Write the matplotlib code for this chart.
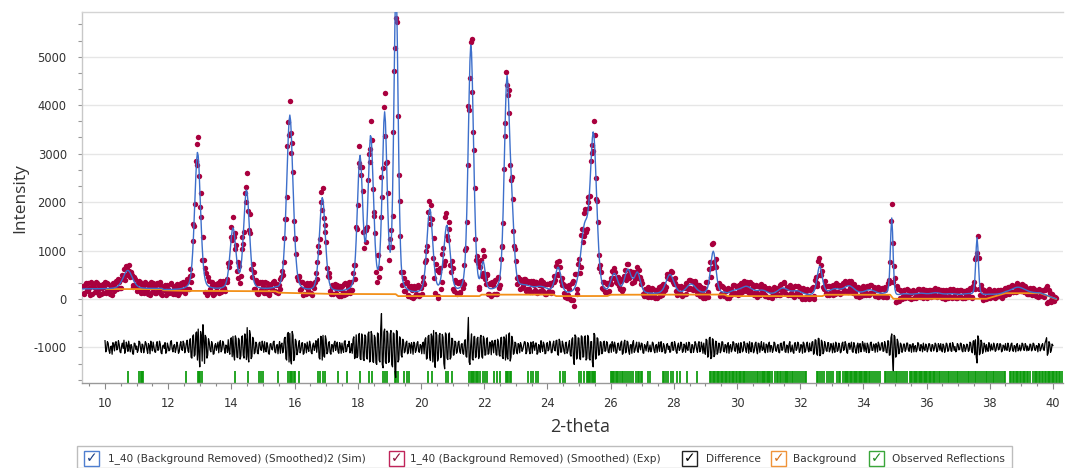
import numpy as np
import matplotlib
matplotlib.use("Agg")
import matplotlib.pyplot as plt
from matplotlib.patches import Rectangle
from matplotlib.ticker import MultipleLocator, AutoMinorLocator

plt.rcParams['font.family'] = ['DejaVu Sans']
plt.rcParams['axes.unicode_minus'] = False

# ---------------- data ----------------
two_theta_start = 9.30
two_theta_end = 40.10

# fitted (Sim) profile: peak positions / heights above background / FWHM
peak_pos = [10.72, 12.93, 14.05, 14.48, 15.85, 16.88, 18.07, 18.41, 18.85, 19.21,
            20.28, 20.82, 21.58, 21.97, 22.72, 22.88, 23.30, 23.80, 24.34, 25.18,
            25.46, 26.12, 26.55, 26.85, 27.88, 28.55, 29.25, 29.90, 30.30, 30.80,
            31.45, 31.90, 32.62, 33.10, 33.55, 34.20, 34.90, 35.30, 35.80, 36.30,
            36.80, 37.30, 37.60, 37.90, 38.90]
peak_height = [380, 2850, 1250, 2050, 3650, 1950, 2750, 3150, 3600, 6300,
               1750, 1400, 5150, 550, 4300, 1200, 120, 120, 550, 1300,
               3200, 380, 480, 420, 400, 200, 880, 80, 180, 100,
               150, 90, 600, 100, 170, 90, 1600, 80, 90, 100,
               80, 80, 1200, 70, 120]
peak_fwhm = [0.35, 0.22, 0.22, 0.22, 0.24, 0.22, 0.20, 0.20, 0.18, 0.16,
             0.22, 0.24, 0.20, 0.15, 0.20, 0.18, 0.50, 0.50, 0.22, 0.30,
             0.24, 0.25, 0.25, 0.22, 0.30, 0.35, 0.20, 0.40, 0.45, 0.40,
             0.40, 0.40, 0.20, 0.40, 0.40, 0.40, 0.10, 0.50, 0.50, 0.50,
             0.50, 0.50, 0.10, 0.50, 0.50]

# background (orange) vertices
bg_x = [10.05, 11.80, 11.85, 12.55, 15.40, 15.50, 17.20, 19.20, 19.28, 21.85,
        21.92, 24.20, 24.28, 25.90, 26.00, 29.60, 29.70, 32.70, 32.80, 34.85,
        34.95, 37.90, 38.50, 39.60, 40.10]
bg_y = [205, 205, 180, 168, 160, 130, 105, 100, 60, 60,
        90, 90, 60, 62, 88, 92, 60, 60, 88, 88,
        5, 5, 120, 120, 0]

# Exp - Sim residual at 9.30, 9.35, ... 40.10 (0.05 deg steps)
residual = [
    60, -90, 130, -40, 20, 150, -110, 40, -60, 110, -130, 70, 10, -80, 140, -50, 90, -120, 30, 100,
    -70, 120, -30, 60, -110, 90, 150, -60, 40, 130, -90, 20, -140, 80, 30, -60, 110, -100, 50, -20,
    90, -120, 40, 130, -70, 10, -100, 120, -40, 70, -130, 50, 100, -80, 20, -50, 140, -90, 60, -30,
    40, -90, 120, -60, 80, -30, 150, -100, 180, -220, 260, -150, 320, 380, -400, 240, 470, -330, 200, -160,
    110, -90, 60, -130, 80, 20, -110, 140, -50, 90, -120, 30, 160, -140, 200, 230, -260, 180, -210, 150,
    -180, 240, -220, 170, 410, -300, 260, -190, 150, -100, 70, -130, 110, -60, 40, 120, -90, 30, -140, 80,
    -50, 130, -110, 60, 20, -120, 90, -40, 210, -260, 310, 290, -340, 250, -200, 130, -90, 140, -60, 100,
    -120, 40, 110, -80, 60, -130, 90, 20, -100, 180, -240, 220, 250, -200, 160, -90, 120, -140, 50, 80,
    -60, 110, -120, 30, 90, -100, 140, -70, 20, -110, 80, 170, -230, 260, -180, 290, -250, 200, -270, 230,
    -240, 320, -280, 260, -310, 200, -350, 280, -300, 700, -420, 380, -330, 300, -280, 350, -400, 280, -620, 330,
    -250, 180, -200, 120, -80, 130, -110, 60, 100, -140, 80, -60, 120, -100, 40, 90, -130, 200, -220, 250,
    -270, 230, 350, -410, 260, -230, 290, -180, 210, -440, 270, -250, 300, -200, 180, -150, 110, -90, 130, -120,
    80, -140, 160, -200, 620, -350, 280, -260, 230, -190, 210, -170, 250, -220, 180, -150, 200, -120, 90, 140,
    -110, 150, -160, 120, -180, 210, -230, 180, 260, -240, 300, -200, 150, -120, 90, -130, 60, 100, -80, 40,
    110, -90, 70, -130, 50, 120, -60, 90, -110, 30, 140, -80, 60, -120, 100, -40, 80, -100, 130, -70,
    150, -160, 120, -90, 60, -130, 110, -70, 140, -180, 200, -350, 230, -210, 190, -250, 220, -190, 240, -230,
    210, -260, 120, -400, 260, -220, 180, -140, 110, -90, 130, -60, 100, -110, 70, 120, -80, 40, -100, 90,
    -60, 130, -120, 150, -90, 110, -140, 60, 90, -100, 40, -70, 110, -50, 80, -120, 30, 70, -90, 50,
    -40, 90, -110, 60, 20, -80, 120, -70, 40, -100, 80, 30, -90, 110, -50, 60, -120, 90, -30, 70,
    -80, 40, 100, -60, 90, -110, 50, -30, 80, -100, 120, -60, 30, 90, -140, 150, -180, 210, -200, 160,
    -150, 120, -100, 80, -60, 110, -90, 40, 70, -120, 60, -40, 100, -80, 50, 90, -110, 30, -60, 80,
    -100, 60, 120, -90, 40, -70, 110, -130, 80, 20, -60, 100, -110, 50, 70, -90, 30, -50, 90, -80,
    60, -110, 90, -40, 120, -100, 30, 70, -90, 50, -120, 100, -30, 80, -70, 40, 110, -100, 60, -40,
    90, -70, 120, -110, 150, -160, 180, -140, 110, -90, 60, -80, 100, -50, 30, 90, -100, 70, -60, 40,
    -90, 110, -40, 70, -120, 90, 30, -80, 100, -60, 40, -110, 80, -30, 60, 90, -100, 50, -70, 110,
    -60, 40, 80, -90, 60, -40, 100, -70, 50, -110, 130, -150, 280, -480, 220, -160, 110, -80, 60, -50,
    70, -40, 90, -80, 30, 60, -90, 40, -50, 80, -70, 20, 90, -60, 40, -30, 70, -80, 50, -20,
    60, -70, 40, 80, -90, 30, -40, 70, -60, 90, -80, 50, 20, -70, 60, -40, 80, -90, 40, -30,
    50, -60, 90, -110, 140, 160, -320, 180, -120, 100, -70, 40, 60, -80, 30, 70, -50, 40, -60, 80,
    -40, 60, -70, 30, 80, -60, 40, -50, 90, -80, 20, 60, -70, 50, -30, 70, -60, 40, 30, -50,
    60, -40, 70, -60, 30, 80, -70, 50, -40, 90, 200, -120, 80, -60, 40, -30, 20,
]

# Exp - Sim residual at the half steps 9.325, 9.375, ... 40.075
residual_mid = [
    -100, 70, -20, 110, -130, 50, 90, -70, 140, -30, 60, -110, 100, 40, -90, 120, -60, 10, -140, 60,
    100, -50, 140, -90, 30, -20, -120, 110, -80, 20, 60, -130, 90, -40, -100, 130, -20, 70, -110, 120,
    -40, 80, -130, 20, 110, -90, 60, -60, 130, -110, 30, -20, -120, 90, -70, 120, -30, 40, -100, 110,
    -120, 60, -40, 130, -110, 90, -70, 120, -200, 230, -180, 300, -260, -150, 330, -280, 200, 250, -220, 180,
    -50, 120, -140, 40, -60, 110, 70, -90, 130, -30, 50, -100, -70, 180, -190, -150, 240, -200, 190, -240,
    220, -160, 280, -250, -180, 350, -230, 210, -130, 110, -120, 90, -40, 130, -100, -50, 100, -120, 70, -30,
    110, -90, 40, -130, 120, 60, -110, 180, -230, 280, -300, -250, 330, -270, 170, -150, 60, -110, 90, -140,
    80, -110, -20, 130, -100, 50, -60, 140, 70, -210, 230, -260, -180, 240, -130, 100, -110, 60, -90, 130,
    40, -90, 100, -120, -40, 120, -90, 60, 130, -70, -120, 220, -190, -210, 250, -230, 280, -240, 260, -200,
    280, -300, 330, -290, 250, -320, 300, -260, 380, -350, 320, -300, 340, -310, 270, -350, 300, -480, 350, -300,
    220, -160, 170, -110, 100, -130, 90, -120, 30, 110, -100, 90, -80, 60, -130, 110, 160, -240, 230, -200,
    280, -300, -260, 310, -280, 250, -210, 270, -330, 300, -220, 260, -240, 190, -160, 130, -120, 100, -80, 60,
    -120, 110, -180, 240, -300, 60, -240, 220, -210, 180, -230, 200, -190, 230, -160, 170, -140, 110, -150, 80,
    130, -140, 170, -150, 200, -190, 220, -260, -200, 270, -280, 230, -140, 110, -100, 80, -110, 50, -40, 120,
    -130, 100, -60, 110, -120, 40, 90, -140, 60, -100, 20, 110, -130, 80, -70, 130, -110, 60, -50, 140,
    -140, 170, -100, 130, -80, 100, -120, 60, -150, 170, -220, 260, -240, 200, -230, 240, -200, 210, -260, 250,
    -230, 120, -300, 290, -240, 200, -160, 120, -130, 100, -80, 120, -90, 40, -100, 60, 110, -120, 80, -40,
    100, -140, 90, -110, 130, -80, 50, -120, 140, -60, 110, -100, 30, 90, -110, 60, -70, 120, -40, -90,
    110, -60, 40, -100, 110, 50, -90, 80, -120, 60, -40, -100, 90, -60, 120, -80, 40, -60, 110, -100,
    70, -100, -30, 110, -80, 60, -100, 120, -40, 70, -90, 110, -120, -60, 170, -200, 190, -230, 180, -190,
    130, -140, 90, -110, 120, -70, 60, -110, 100, 30, -90, 120, -60, 80, -120, -50, 100, -90, 120, -40,
    90, -120, -40, 100, -110, 80, -60, 90, -100, 120, -40, -80, 70, -100, 110, 40, -100, 110, -60, 30,
    -100, 80, -60, 110, -90, 50, -110, 120, -40, -90, 90, -60, 110, -100, 60, -120, 80, -70, 110, -90,
    -60, 110, -140, 160, -130, 190, -170, 150, -130, 120, -60, 100, -90, 80, -110, -40, 110, -80, 90, -110,
    80, -60, 120, -100, 60, -40, 110, -100, 40, -120, 90, 60, -90, 120, -80, -40, 90, -110, 100, -60,
    70, -100, 40, 110, -60, 90, -80, 120, -100, 140, -160, 200, -220, 250, -200, 170, -130, 90, -100, 70,
    -80, 90, -50, 60, -100, 80, 20, -90, 100, -40, 60, -90, -30, 70, -90, 80, -50, 60, -70, 90,
    -90, 80, -60, -40, 70, -100, 90, -80, 40, -70, 100, -60, -90, 80, -50, 90, -70, 60, -80, 70,
    -80, 110, -70, 130, -150, -200, 240, -150, 150, -120, 90, -90, -50, 100, -70, -40, 90, -80, 70, -50,
    80, -90, 50, -60, -40, 90, -80, 70, -60, 40, -90, 80, -40, -70, 90, -50, 80, -70, -60, 70,
    -70, 90, -50, 40, -90, 60, -30, 80, -60, 140, -160, 120, -100, 70, -60, 40,
]

difference_offset = -1000
difference_range = (10.0, 40.0)

# observed reflection positions (green ticks)
reflections = [
    10.74, 11.09, 11.13, 11.17, 11.21, 12.56, 12.93, 12.97, 13.02, 13.06,
    14.11, 14.51, 14.88, 14.93, 14.99, 15.46, 15.80, 15.84, 15.88, 15.92,
    15.97, 16.01, 16.14, 16.75, 16.82, 16.89, 16.96, 17.38, 17.67, 18.07,
    18.36, 18.44, 18.81, 18.86, 18.91, 19.18, 19.22, 19.26, 19.46, 19.55,
    19.63, 20.23, 20.36, 20.78, 20.87, 20.97, 21.53, 21.57, 21.61, 21.65,
    21.69, 21.73, 21.77, 21.81, 21.87, 21.97, 22.02, 22.08, 22.31, 22.42,
    22.50, 22.69, 22.73, 22.77, 22.81, 22.85, 23.40, 23.48, 23.56, 23.63,
    23.69, 24.40, 24.48, 24.57, 25.01, 25.08, 25.16, 25.24, 25.28, 25.32,
    25.36, 25.40, 25.44, 25.48, 25.52, 26.00, 26.04, 26.08, 26.12, 26.16,
    26.20, 26.25, 26.30, 26.35, 26.40, 26.47, 26.53, 26.59, 26.66, 26.72,
    26.82, 26.86, 26.91, 26.96, 27.01, 27.20, 27.25, 27.65, 27.70, 27.76,
    27.83, 27.90, 27.97, 28.10, 28.19, 28.41, 28.74, 29.15, 29.19, 29.23,
    29.27, 29.31, 29.36, 29.40, 29.44, 29.49, 29.53, 29.57, 29.61, 29.66,
    29.70, 29.74, 29.79, 29.83, 29.87, 29.92, 29.96, 30.00, 30.05, 30.10,
    30.14, 30.18, 30.22, 30.25, 30.33, 30.39, 30.45, 30.51, 30.57, 30.62,
    30.67, 30.72, 30.78, 30.82, 30.86, 30.90, 30.94, 30.98, 31.02, 31.06,
    31.10, 31.20, 31.26, 31.31, 31.36, 31.41, 31.47, 31.51, 31.55, 31.59,
    31.63, 31.68, 31.73, 31.79, 31.85, 31.90, 31.96, 32.03, 32.09, 32.14,
    32.20, 32.52, 32.57, 32.63, 32.70, 32.76, 32.84, 32.90, 32.97, 33.05,
    33.18, 33.23, 33.26, 33.37, 33.41, 33.45, 33.49, 33.53, 33.57, 33.61,
    33.65, 33.69, 33.73, 33.77, 33.81, 33.85, 33.89, 33.93, 33.97, 34.01,
    34.05, 34.09, 34.13, 34.17, 34.21, 34.29, 34.35, 34.41, 34.47, 34.53,
    34.68, 34.73, 34.79, 34.85, 34.90, 34.96, 35.02, 35.08, 35.14, 35.19,
    35.25, 35.31, 35.37, 35.47, 35.51, 35.55, 35.59, 35.63, 35.67, 35.71,
    35.75, 35.79, 35.83, 35.87, 35.91, 35.95, 35.99, 36.03, 36.07, 36.11,
    36.15, 36.19, 36.23, 36.28, 36.32, 36.38, 36.44, 36.50, 36.55, 36.61,
    36.67, 36.72, 36.78, 36.84, 36.90, 36.95, 37.01, 37.07, 37.13, 37.18,
    37.24, 37.30, 37.35, 37.41, 37.47, 37.53, 37.58, 37.64, 37.70, 37.75,
    37.81, 37.87, 37.93, 37.98, 38.04, 38.10, 38.15, 38.21, 38.27, 38.33,
    38.38, 38.44, 38.50, 38.64, 38.68, 38.73, 38.77, 38.82, 38.86, 38.91,
    38.95, 39.00, 39.04, 39.09, 39.13, 39.18, 39.22, 39.27, 39.38, 39.42,
    39.47, 39.51, 39.56, 39.60, 39.65, 39.69, 39.74, 39.78, 39.83, 39.87,
    39.92, 39.96, 40.01, 40.05, 40.10, 40.14, 40.19, 40.23, 40.28,
]

x_ticks = [10, 12, 14, 16, 18, 20, 22, 24, 26, 28, 30, 32, 34, 36, 38, 40]
y_ticks = [-1000, 0, 1000, 2000, 3000, 4000, 5000]

legend_labels = ["1_40 (Background Removed) (Smoothed)2 (Sim)",
                 "1_40 (Background Removed) (Smoothed) (Exp)",
                 "Difference", "Background", "Observed Reflections"]

# ---------------- build profiles ----------------
n_pts = len(residual) + len(residual_mid)
two_theta = np.linspace(two_theta_start, two_theta_end, n_pts)
res = np.empty(n_pts)
res[0::2] = residual
res[1::2] = residual_mid


def pseudo_voigt(x, x0, h, w, eta=0.3):
    sigma = w / 2.3548
    g = np.exp(-0.5 * ((x - x0) / sigma) ** 2)
    lor = 1.0 / (1.0 + (2 * (x - x0) / w) ** 2)
    return h * ((1 - eta) * g + eta * lor)


background_on_grid = np.interp(two_theta, bg_x, bg_y)
sim = background_on_grid.copy()
for p, h, w in zip(peak_pos, peak_height, peak_fwhm):
    sim += pseudo_voigt(two_theta, p, h, w)
exp = sim + res
dmask = (two_theta >= difference_range[0] - 1e-9) & (two_theta <= difference_range[1] + 1e-9)
difference = exp - sim + difference_offset

# ---------------- figure ----------------
W, H = 1065, 468
fig = plt.figure(figsize=(W / 100, H / 100), dpi=100)
fig.patch.set_facecolor('white')

left_px, right_px, top_px, bottom_px = 82, 1063, 12, 383
ax = fig.add_axes([left_px / W, 1 - bottom_px / H,
                   (right_px - left_px) / W, (bottom_px - top_px) / H])

ax.set_xlim(9.272, 40.32)
ax.set_ylim(-1733, 5922)

ax.yaxis.grid(True, color='#e6e6e6', lw=1.0, zorder=0)
ax.set_axisbelow(True)

sim_color = '#3d6fcb'
exp_color = '#a9003e'
diff_color = '#000000'
bg_color = '#f39019'
refl_color = '#0a9a0a'

ax.vlines(reflections, -1733, -1490, colors=refl_color, lw=1.25, zorder=2)
ax.plot(two_theta[dmask], difference[dmask], color=diff_color, lw=0.9, zorder=3)
ax.plot(two_theta, exp, linestyle='none', marker='o', ms=3.9, mew=0,
        color=exp_color, zorder=4)
ax.plot(bg_x, bg_y, color=bg_color, lw=1.3, zorder=5)
ax.plot(two_theta, sim, color=sim_color, lw=1.0, zorder=6)

ax.set_xticks(x_ticks)
ax.set_yticks(y_ticks)
ax.xaxis.set_minor_locator(MultipleLocator(0.5))
ax.yaxis.set_minor_locator(AutoMinorLocator(3))
ax.tick_params(axis='x', which='major', length=4, width=0.8, color='#888888',
               labelsize=8.3, labelcolor='#333333', pad=6)
ax.tick_params(axis='x', which='minor', length=2.5, width=0.8, color='#888888')
ax.tick_params(axis='y', which='major', length=3, width=0.8, color='#999999',
               labelsize=8.3, labelcolor='#333333', pad=8)
ax.tick_params(axis='y', which='minor', length=3, width=0.8, color='#999999')

ax.spines['right'].set_visible(False)
ax.spines['top'].set_color('#d4d4d4')
ax.spines['left'].set_color('#c8c8c8')
ax.spines['bottom'].set_color('#999999')
for s in ax.spines.values():
    s.set_linewidth(1.0)


def fx(px):
    return px / W


def fy(py):
    return 1 - py / H


lab_font = ['Open Sans', 'DejaVu Sans']
fig.text(fx(580), fy(427), '2-theta', ha='center', va='center', fontsize=13,
         color='#333333', family=lab_font)
fig.text(fx(20), fy(198), 'Intensity', ha='center', va='center', fontsize=12.5,
         rotation=90, color='#333333', family=lab_font)

# legend strip
fig.add_artist(Rectangle((fx(77), fy(467.5)), (1012 - 77) / W, (467.5 - 446) / H,
                         transform=fig.transFigure, fill=False,
                         edgecolor='#bdbdbd', lw=1.0))
box_x = [84, 389, 682, 771, 869]
text_x = [108, 410, 706, 793, 892]
box_edge = ['#4f7fd0', '#c0245a', '#222222', '#f0943a', '#3aa63a']
check_col = ['#1c3f86', '#8e0f3a', '#000000', '#d9731a', '#1f8a1f']
for bx, tx, ec, cc, lab in zip(box_x, text_x, box_edge, check_col, legend_labels):
    fig.add_artist(Rectangle((fx(bx), fy(466)), 15 / W, 15 / H,
                             transform=fig.transFigure, facecolor='white',
                             edgecolor=ec, lw=1.0))
    fig.text(fx(bx + 7.5), fy(458.5), '\u2713', ha='center', va='center',
             fontsize=10, color=cc, fontweight='bold', family=['DejaVu Sans'])
    fig.text(fx(tx), fy(458.5), lab, ha='left', va='center', fontsize=7.6,
             color='#333333')

fig.savefig('out.png', dpi=100, facecolor='white')
